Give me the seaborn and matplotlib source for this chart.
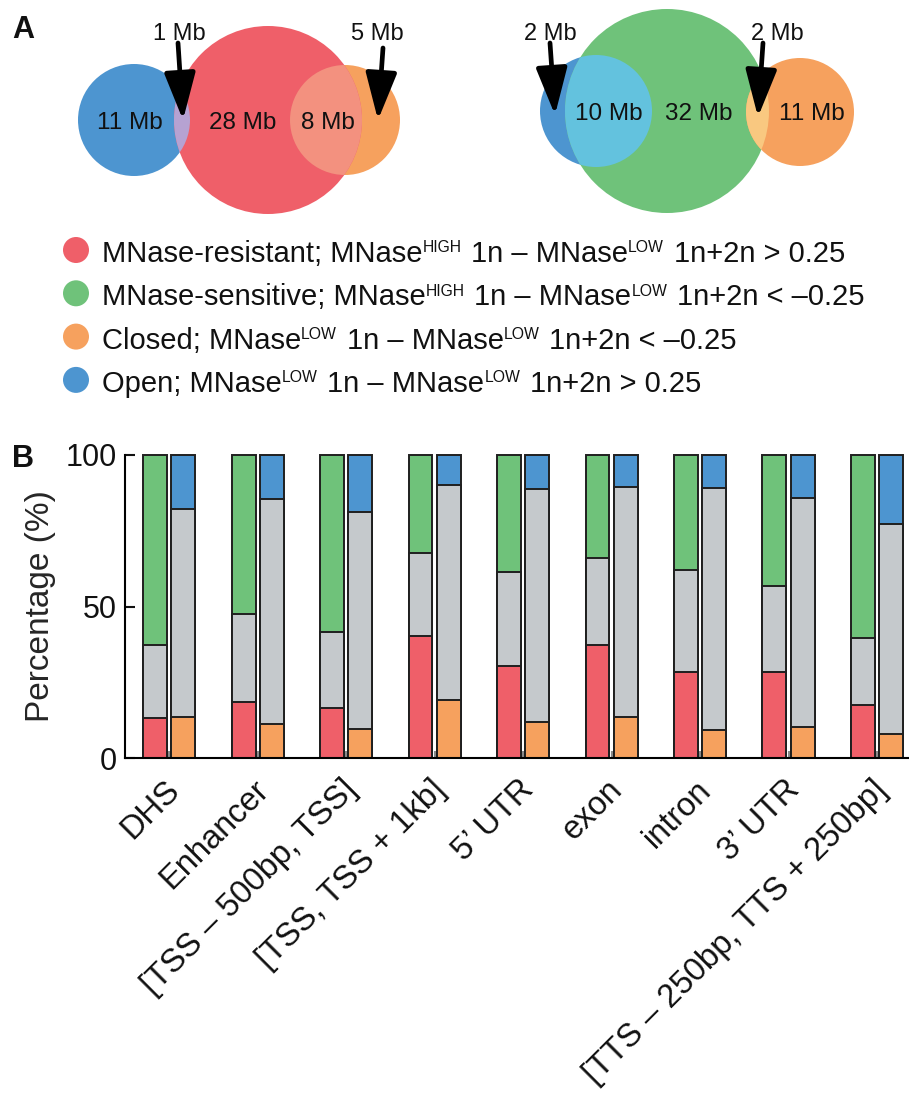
import numpy as np
import pandas as pd
import matplotlib
matplotlib.use("Agg")
import matplotlib.pyplot as plt
from matplotlib.patches import Circle
from matplotlib.transforms import ScaledTranslation
import seaborn as sns

# ---------------- data ----------------
regions = ["DHS", "Enhancer", "[TSS – 500bp, TSS]", "[TSS, TSS + 1kb]",
           "5’ UTR", "exon", "intron", "3’ UTR", "[TTS – 250bp, TTS + 250bp]"]
# left bar of each pair: MNase-resistant (bottom) / neither / MNase-sensitive (top)
resistant = [13.2, 18.5, 16.4, 40.4, 30.4, 37.2, 28.5, 28.4, 17.6]
sensitive = [62.6, 52.4, 58.3, 32.5, 38.7, 34.0, 38.1, 43.1, 60.5]
# right bar of each pair: closed (bottom) / neither / open (top)
closed = [13.5, 11.3, 9.6, 19.2, 11.8, 13.4, 9.4, 10.3, 8.0]
open_ = [17.8, 14.5, 18.7, 9.8, 11.1, 10.6, 10.9, 14.3, 22.7]
yticks = [0, 50, 100]

# Venn region sizes (Mb)
venn_left_labels = ["11 Mb", "28 Mb", "8 Mb"]
venn_left_arrow_labels = ["1 Mb", "5 Mb"]
venn_right_labels = ["10 Mb", "32 Mb", "11 Mb"]
venn_right_arrow_labels = ["2 Mb", "2 Mb"]

# legend lines as (text, is_superscript, space_before) pieces
legend_lines = [
    [("MNase-resistant; MNase", False, False), ("HIGH", True, False),
     ("1n – MNase", False, True), ("LOW", True, False), ("1n+2n > 0.25", False, True)],
    [("MNase-sensitive; MNase", False, False), ("HIGH", True, False),
     ("1n – MNase", False, True), ("LOW", True, False), ("1n+2n < –0.25", False, True)],
    [("Closed; MNase", False, False), ("LOW", True, False),
     ("1n – MNase", False, True), ("LOW", True, False), ("1n+2n < –0.25", False, True)],
    [("Open; MNase", False, False), ("LOW", True, False),
     ("1n – MNase", False, True), ("LOW", True, False), ("1n+2n > 0.25", False, True)],
]

# ---------------- style ----------------
RED = "#EF5F69"
GREEN = "#6FC27A"
ORANGE = "#F6A15E"
BLUE = "#4D95D0"
GREY = "#C5C9CC"
LAVENDER = "#B6A2D2"
SALMON = "#F3917F"
CYAN = "#63C2DE"
PALE = "#F9C880"
EDGE = "#1f1f1f"
INK = "#111111"

sns.set_style("ticks")
plt.rcParams["font.family"] = ["Liberation Sans", "DejaVu Sans"]
plt.rcParams["text.color"] = INK

W, H = 909, 1094
fig = plt.figure(figsize=(W / 100, H / 100), dpi=100)
renderer = fig.canvas.get_renderer()

# overlay in pixel units for panel A, legend and panel letters
ov = fig.add_axes([0, 0, 1, 1])
ov.set_xlim(0, W)
ov.set_ylim(H, 0)
ov.axis("off")


def circle(ax, xy, r, color, clip=None, z=1):
    c = Circle(xy, r, facecolor=color, edgecolor="none", zorder=z)
    ax.add_patch(c)
    if clip is not None:
        c.set_clip_path(clip)
    return c


def arrow(ax, tail, tip):
    ax.annotate("", xy=tip, xytext=tail,
                arrowprops=dict(arrowstyle="-|>,head_length=1.45,head_width=0.48",
                                mutation_scale=20, lw=3.4, color="black",
                                shrinkA=0, shrinkB=0), zorder=5)


def text_width(ax, s, size):
    t = ax.text(0, 0, s, fontsize=size)
    w = t.get_window_extent(renderer).width
    t.remove()
    return w


def rich_line(ax, x, y, pieces, size, sup_scale=0.54, raise_px=9.5):
    space = text_width(ax, "M M", size) - text_width(ax, "MM", size)
    for s, sup, sp in pieces:
        if sp:
            x += space
        fs = size * sup_scale if sup else size
        t = ax.text(x, y - (raise_px if sup else 0), s, fontsize=fs,
                    ha="left", va="baseline")
        x += t.get_window_extent(renderer).width + (1.5 if sup else 0)


# ---- left Venn: open / MNase-resistant / closed ----
b1 = circle(ov, (134, 120), 56, BLUE)
r1 = circle(ov, (268, 120), 94, RED)
o1 = circle(ov, (345, 120), 55, ORANGE, z=0.9)
circle(ov, (134, 120), 56, LAVENDER, clip=r1, z=2)
circle(ov, (345, 120), 55, SALMON, clip=r1, z=2)
for (x, s) in zip([130, 243, 328], venn_left_labels):
    ov.text(x, 129, s, ha="center", va="baseline", fontsize=17.5, zorder=6)
for (x, s) in zip([179, 377], venn_left_arrow_labels):
    ov.text(x, 40, s, ha="center", va="baseline", fontsize=17, zorder=6)
arrow(ov, (178, 43), (183, 120))
arrow(ov, (383, 48), (378, 120))

# ---- right Venn: open / MNase-sensitive / closed ----
b2 = circle(ov, (596, 111), 56, BLUE)
g2 = circle(ov, (667, 111), 102, GREEN)
o2 = circle(ov, (800, 112), 54, ORANGE)
circle(ov, (596, 111), 56, CYAN, clip=g2, z=2)
circle(ov, (800, 112), 54, PALE, clip=g2, z=2)
for (x, s) in zip([609, 699, 812], venn_right_labels):
    ov.text(x, 120, s, ha="center", va="baseline", fontsize=17.5, zorder=6)
for (x, s) in zip([550, 777], venn_right_arrow_labels):
    ov.text(x, 40, s, ha="center", va="baseline", fontsize=17, zorder=6)
arrow(ov, (550, 43), (555, 115))
arrow(ov, (763, 43), (758, 117))

# ---- legend ----
for i, (pieces, col) in enumerate(zip(legend_lines, [RED, GREEN, ORANGE, BLUE])):
    yc = 250 + 43.3 * i
    circle(ov, (76, yc), 13, col)
    rich_line(ov, 102, yc + 12, pieces, 21)

# panel letters
ov.text(12, 38, "A", fontsize=22, fontweight="bold", va="baseline")
ov.text(12, 467, "B", fontsize=22, fontweight="bold", va="baseline")

# ---------------- panel B: paired stacked bars ----------------
sides = ["resistant/sensitive", "closed/open"]
df = pd.DataFrame({
    "region": regions * 2,
    "side": [sides[0]] * len(regions) + [sides[1]] * len(regions),
    "low": list(resistant) + list(closed),
    "top_of_grey": [100 - v for v in sensitive] + [100 - v for v in open_],
    "total": [100.0] * (2 * len(regions)),
})

ax = fig.add_axes([125 / W, 336 / H, (908 - 125) / W, 303 / H])
layers = [
    ("total", {sides[0]: GREEN, sides[1]: BLUE}),
    ("top_of_grey", {sides[0]: GREY, sides[1]: GREY}),
    ("low", {sides[0]: RED, sides[1]: ORANGE}),
]
for col, pal in layers:
    sns.barplot(data=df, x="region", y=col, hue="side", order=regions,
                hue_order=sides, palette=pal, width=0.64, gap=0.156,
                saturation=1, edgecolor=EDGE, linewidth=1.4,
                errorbar=None, legend=False, ax=ax)
for p in ax.patches:
    p.set_clip_on(False)

ax.set_ylim(0, 100)
ax.set_xlim(-0.5, 8.35)
sns.despine(ax=ax)
for s in ["left", "bottom"]:
    ax.spines[s].set_linewidth(1.5)
    ax.spines[s].set_color("black")
ax.set_yticks(yticks)
ax.tick_params(axis="y", direction="in", length=7, width=1.5, labelsize=22,
               pad=6, colors=INK)
ax.tick_params(axis="x", direction="in", length=5, width=1.5, color="#8a8a8a",
               labelsize=23.5, pad=11, labelcolor=INK)
ax.set_xticks(range(len(regions)))
ax.set_xticklabels(regions, rotation=45, ha="right", va="center",
                   rotation_mode="anchor")
shift = ScaledTranslation(6 / 100, -12 / 100, fig.dpi_scale_trans)
for lab in ax.get_xticklabels():
    lab.set_transform(lab.get_transform() + shift)
ax.set_xlabel("")
ax.set_ylabel("Percentage (%)", fontsize=24, labelpad=7)

fig.savefig("out.png", dpi=100)
